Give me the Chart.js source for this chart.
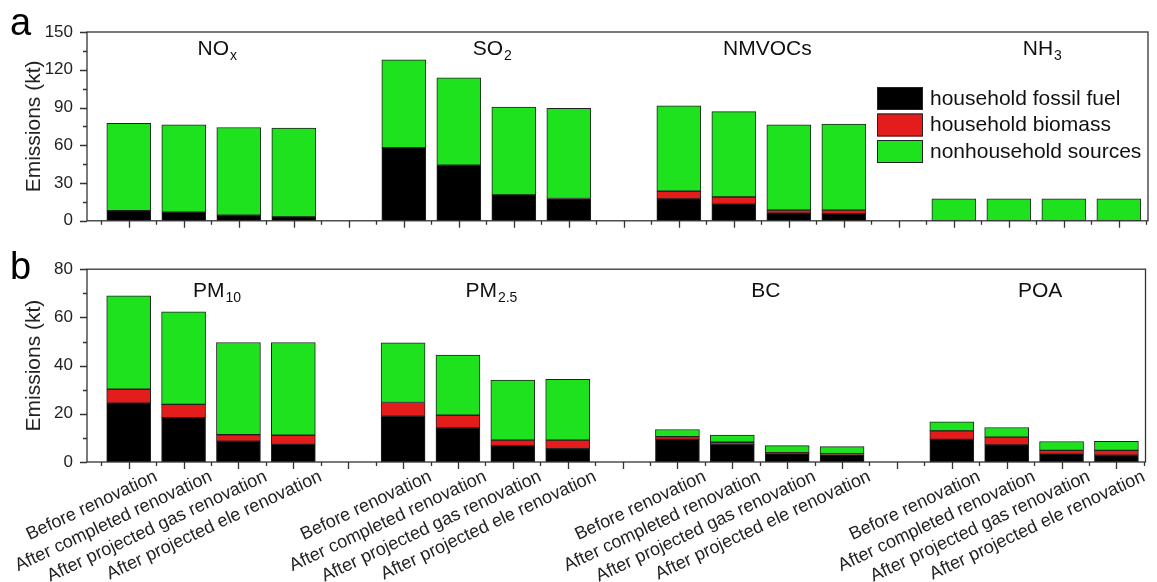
<!DOCTYPE html>
<html lang="en">
<head>
<meta charset="UTF-8">
<title>Household renovation emissions</title>
<script src="https://cdn.jsdelivr.net/npm/chart.js"></script>
<style>
  body { margin: 0; background: #fff; font-family: 'Liberation Sans', Arial, sans-serif; }
  #wrap { position: relative; width: 1157px; height: 582px; }
  .panel { position: absolute; left: 0; width: 1157px; }
  #pa { top: 0; height: 245px; }
  #pb { top: 245px; height: 337px; }
  .tag { position: absolute; left: 10px; font-size: 38px; line-height: 1; color: #000; }
</style>
</head>
<body>
<div id="wrap">
  <div class="panel" id="pa"><canvas id="chartA"></canvas></div>
  <div class="panel" id="pb"><canvas id="chartB"></canvas></div>
  <div class="tag" style="top:3px">a</div>
  <div class="tag" style="top:247px">b</div>
</div>

<script>
// scenarios shown under every pollutant group
const scenarios = ['Before renovation', 'After completed renovation',
                   'After projected gas renovation', 'After projected ele renovation'];

// panel a: NOx, SO2, NMVOCs, NH3 (kt)
const titleMainA = ['NO', 'SO', 'NMVOCs', 'NH'];
const titleSubA  = ['x', '2', '', '3'];
const fossilA  = [8.0, 6.8, 4.4, 3.1,   58.2, 44.1, 20.6, 17.7,   17.4, 13.3, 6.1, 5.6,   0, 0, 0, 0];
const biomassA = [0, 0, 0, 0,           0, 0, 0, 0,               6.1, 5.6, 2.4, 2.9,     0, 0, 0, 0];
const otherA   = [69.5, 69.5, 69.7, 70.6, 69.7, 69.5, 69.8, 71.7, 67.9, 67.8, 67.8, 68.3, 17.4, 17.4, 17.4, 17.4];

// panel b: PM10, PM2.5, BC, POA (kt)
const titleMainB = ['PM', 'PM', 'BC', 'POA'];
const titleSubB  = ['10', '2.5', '', ''];
const fossilB  = [24.4, 18.4, 8.6, 7.3,  19.0, 14.1, 6.7, 5.5,  9.4, 7.2, 3.5, 3.1,  9.4, 7.1, 3.3, 2.8];
const biomassB = [5.8, 5.5, 2.7, 3.8,    5.7, 5.3, 2.4, 3.6,    1.1, 1.0, 0.4, 0.4,  3.5, 3.2, 1.5, 2.0];
const otherB   = [38.7, 38.4, 38.3, 38.5, 24.7, 25.0, 24.9, 25.2, 3.0, 3.0, 2.9, 2.9, 3.8, 4.0, 3.7, 3.8];

const yMaxA = 150, yStepA = 30;
const yMaxB = 80,  yStepB = 20;

const sourceNames  = ['household fossil fuel', 'household biomass', 'nonhousehold sources'];
const sourceColors = ['#000000', 'rgb(229,28,28)', 'rgb(30,226,30)'];

const FONT = "'Liberation Sans', Arial, sans-serif";
const SLOT_MIN = -0.76, SLOT_MAX = 18.53;

// 4 bars per group, one empty slot between groups
function slotOf(i) { return Math.floor(i / 4) * 5 + (i % 4); }
// the rotated labels end at the right edge of their bar's slot
const labelSlots = scenarios.flatMap((s, i) => [0, 1, 2, 3].map(g => g * 5 + i + 0.5)).sort((a, b) => a - b);

function toPoints(arr) {
  return arr.map((v, i) => ({ x: slotOf(i), y: v }));
}

function makeDatasets(f, b, o) {
  return [f, b, o].map((arr, k) => ({
    label: sourceNames[k],
    data: toPoints(arr),
    backgroundColor: sourceColors[k],
    borderColor: '#222',
    borderWidth: 1,
    borderSkipped: false,
    barThickness: 44
  }));
}

function makeDecor(cfg) {
  return {
    id: 'decor',
    afterDatasetsDraw(chart) {
      const { ctx, chartArea: a, scales: { x, y } } = chart;
      ctx.save();
      ctx.strokeStyle = '#333';
      ctx.lineWidth = 1.3;
      ctx.strokeRect(a.left, a.top, a.right - a.left, a.bottom - a.top);

      ctx.beginPath();
      for (let v = -0.5; v <= 18.5; v += 0.5) {
        const px = Math.round(x.getPixelForValue(v)) + 0.5;
        const len = Number.isInteger(v) ? 7 : 4;
        ctx.moveTo(px, a.bottom);
        ctx.lineTo(px, a.bottom + len);
      }
      const minor = cfg.step / 2;
      for (let v = 0; v <= cfg.max + 0.001; v += minor) {
        const py = Math.round(y.getPixelForValue(v)) + 0.5;
        const len = (Math.round(v / minor) % 2 === 0) ? 7 : 4;
        ctx.moveTo(a.left, py);
        ctx.lineTo(a.left - len, py);
      }
      ctx.stroke();

      // pollutant names with subscripts
      ctx.fillStyle = '#111';
      ctx.textBaseline = 'alphabetic';
      ctx.textAlign = 'left';
      for (let g = 0; g < 4; g++) {
        const cx = x.getPixelForValue(g * 5 + 1.5) + 6;
        ctx.font = '21px ' + FONT;
        const wm = ctx.measureText(cfg.main[g]).width;
        ctx.font = '14px ' + FONT;
        const ws = cfg.sub[g] ? ctx.measureText(cfg.sub[g]).width + 1 : 0;
        const x0 = cx - (wm + ws) / 2;
        const by = a.top + cfg.titleDy;
        ctx.font = '21px ' + FONT;
        ctx.fillText(cfg.main[g], x0, by);
        if (cfg.sub[g]) {
          ctx.font = '14px ' + FONT;
          ctx.fillText(cfg.sub[g], x0 + wm + 1, by + 5);
        }
      }

      if (cfg.legend) {
        const bx = a.left + 790, by0 = a.top + 55;
        chart.data.datasets.forEach((ds, k) => {
          const top = by0 + k * 26.5;
          ctx.fillStyle = ds.backgroundColor;
          ctx.fillRect(bx, top, 46, 23);
          ctx.strokeStyle = '#222';
          ctx.lineWidth = 1;
          ctx.strokeRect(bx + 0.5, top + 0.5, 45, 22);
          ctx.fillStyle = '#111';
          ctx.font = '21px ' + FONT;
          ctx.textBaseline = 'middle';
          ctx.fillText(ds.label, bx + 53, top + 12);
        });
      }
      ctx.restore();
    }
  };
}

function makeChart(id, datasets, yMax, yStep, showLabels, xHeight, padTop, decor) {
  return new Chart(document.getElementById(id), {
    type: 'bar',
    data: { datasets: datasets },
    options: {
      responsive: true,
      maintainAspectRatio: false,
      animation: false,
      layout: { padding: { top: padTop, right: 9, left: 0, bottom: 0 } },
      plugins: { legend: { display: false }, tooltip: { enabled: false } },
      scales: {
        x: {
          type: 'linear',
          stacked: true,
          offset: false,
          min: SLOT_MIN,
          max: SLOT_MAX,
          afterBuildTicks: s => { s.ticks = labelSlots.map(v => ({ value: v })); },
          afterFit: s => { s.height = xHeight; },
          grid: { display: false, drawTicks: false },
          border: { display: false },
          ticks: {
            display: showLabels,
            autoSkip: false,
            minRotation: 25,
            maxRotation: 25,
            padding: 4,
            color: '#222',
            font: { family: FONT, size: 18 },
            callback: v => scenarios[Math.round(v - 0.5) % 5] || ''
          }
        },
        y: {
          stacked: true,
          min: 0,
          max: yMax,
          afterFit: s => { s.width = 87; },
          grid: { display: false, drawTicks: false },
          border: { display: false },
          ticks: {
            stepSize: yStep,
            padding: 14,
            color: '#222',
            font: { family: FONT, size: 17 }
          },
          title: {
            display: true,
            text: 'Emissions (kt)',
            color: '#222',
            font: { family: FONT, size: 21 },
            padding: { top: 22, bottom: 0 }
          }
        }
      }
    },
    plugins: [decor]
  });
}

makeChart('chartA', makeDatasets(fossilA, biomassA, otherA), yMaxA, yStepA, false, 7, 32,
  makeDecor({ max: yMaxA, step: yStepA, main: titleMainA, sub: titleSubA, titleDy: 23, legend: true }));

makeChart('chartB', makeDatasets(fossilB, biomassB, otherB), yMaxB, yStepB, true, 120, 10,
  makeDecor({ max: yMaxB, step: yStepB, main: titleMainB, sub: titleSubB, titleDy: 28, legend: false }));
</script>
</body>
</html>
